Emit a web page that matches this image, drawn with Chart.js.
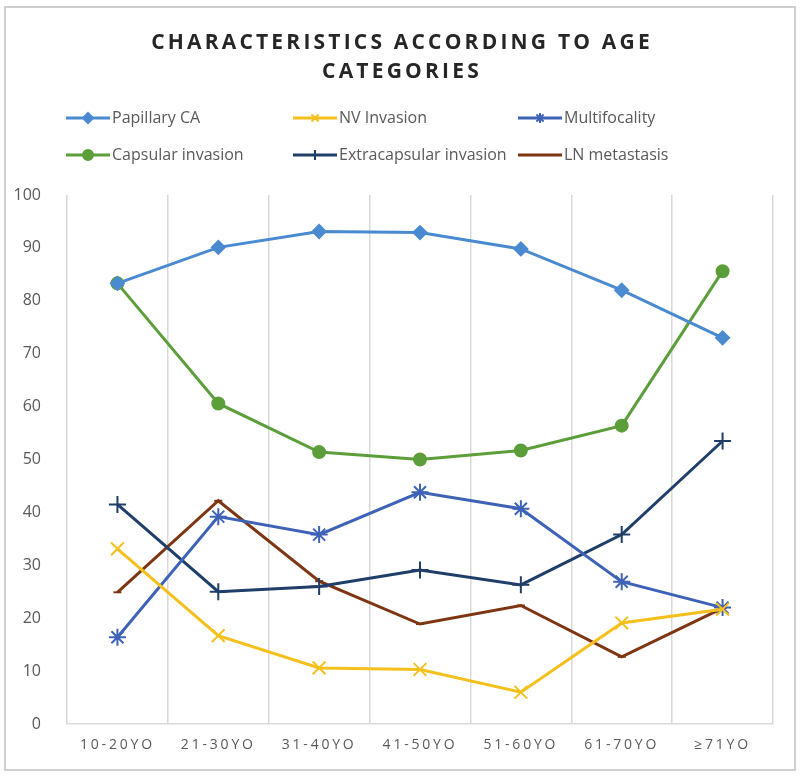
<!DOCTYPE html>
<html>
<head>
<meta charset="utf-8">
<script src="https://cdn.jsdelivr.net/npm/chart.js@4"></script>
<style>
  html, body { margin: 0; padding: 0; background: #fff; }
  #wrap { width: 800px; height: 777px; }
</style>
</head>
<body>
<div id="wrap"><canvas id="myChart" width="800" height="777"></canvas></div>
<script>
const labels = ["10-20YO", "21-30YO", "31-40YO", "41-50YO", "51-60YO", "61-70YO", "≥71YO"];
const papillaryCA = [83.3, 90.1, 93.1, 92.9, 89.8, 82.0, 73.0];
const nvInvasion = [33.1, 16.7, 10.6, 10.3, 6.0, 19.1, 21.7];
const multifocality = [16.4, 39.2, 35.8, 43.8, 40.7, 26.9, 22.0];
const capsularInvasion = [83.3, 60.6, 51.4, 50.0, 51.7, 56.4, 85.6];
const extracapsularInvasion = [41.5, 25.0, 26.0, 29.1, 26.3, 35.8, 53.5];
const lnMetastasis = [24.9, 42.2, 27.0, 18.9, 22.4, 12.7, 21.9];
const yTicks = [0, 10, 20, 30, 40, 50, 60, 70, 80, 90, 100];
const titleLines = ["CHARACTERISTICS ACCORDING TO AGE", "CATEGORIES"];

const grey = "#595959";

const makeSeries = (label, data, color, pointStyle, radius) => ({
  label,
  data,
  borderColor: color,
  backgroundColor: color,
  borderWidth: 3,
  pointStyle,
  pointRadius: radius,
  pointBorderWidth: 2,
  pointBackgroundColor: color,
  pointBorderColor: color,
  tension: 0,
});

const datasets = [
  makeSeries("Papillary CA", papillaryCA, "#4a8ad0", "rectRot", 6.5),
  makeSeries("NV Invasion", nvInvasion, "#f5c01c", "crossRot", 9),
  makeSeries("Multifocality", multifocality, "#3e63b6", "star", 8.5),
  makeSeries("Capsular invasion", capsularInvasion, "#5c9e3a", "circle", 6),
  makeSeries("Extracapsular invasion", extracapsularInvasion, "#1f3e69", "cross", 8.5),
  makeSeries("LN metastasis", lnMetastasis, "#7e3512", "line", 4),
];

// legend slots: 3 columns x 2 rows
const legendCols = [66, 293, 518];
const legendRows = [118, 155];

const framePlugin = {
  id: "frame",
  beforeDraw(chart) {
    const xs = chart.scales.x;
    if (xs && !xs._spaced) {
      const orig = xs.drawLabels;
      xs.drawLabels = function (area) {
        this.ctx.save();
        this.ctx.letterSpacing = "2.8px";
        orig.call(this, area);
        this.ctx.restore();
      };
      xs._spaced = true;
    }
  },
  afterDraw(chart) {
    const ctx = chart.ctx;
    ctx.save();
    // outer border
    ctx.strokeStyle = "#cfcfcf";
    ctx.lineWidth = 2;
    ctx.strokeRect(5, 7, 790, 763);

    // title
    ctx.fillStyle = "#262626";
    ctx.font = "bold 21px 'Open Sans'";
    ctx.textAlign = "center";
    ctx.textBaseline = "middle";
    ctx.letterSpacing = "3.2px";
    ctx.fillText(titleLines[0], 402, 43);
    ctx.fillText(titleLines[1], 402, 72);

    // legend
    ctx.letterSpacing = "0px";
    ctx.font = "16px 'Open Sans'";
    ctx.textAlign = "left";
    chart.data.datasets.forEach((ds, i) => {
      const x = legendCols[i % 3];
      const y = legendRows[Math.floor(i / 3)];
      ctx.strokeStyle = ds.borderColor;
      ctx.fillStyle = ds.borderColor;
      ctx.lineWidth = 3;
      ctx.beginPath();
      ctx.moveTo(x, y);
      ctx.lineTo(x + 44, y);
      ctx.stroke();
      ctx.lineWidth = 2;
      Chart.helpers.drawPoint(ctx, {
        pointStyle: ds.pointStyle,
        radius: Math.min(ds.pointRadius, 5),
        rotation: 0,
        borderWidth: 2,
      }, x + 22, y);
      ctx.fillStyle = grey;
      ctx.fillText(ds.label, x + 46, y);
    });
    ctx.restore();
  },
};

new Chart(document.getElementById("myChart"), {
  type: "line",
  data: { labels, datasets },
  options: {
    responsive: false,
    animation: false,
    layout: { padding: { top: 195, right: 27, left: 0, bottom: 0 } },
    plugins: {
      legend: { display: false },
      title: { display: false },
      tooltip: { enabled: false },
    },
    scales: {
      x: {
        offset: true,
        grid: { display: true, offset: true, color: "#d9d9d9", lineWidth: 1.5, drawTicks: false },
        border: { display: true, color: "#d9d9d9", width: 1.5 },
        ticks: { color: grey, font: { family: "'Open Sans'", size: 14 }, padding: 13, maxRotation: 0 },
        afterFit: (scale) => { scale.height = 53; },
      },
      y: {
        min: 0,
        max: 100,
        afterBuildTicks: (scale) => { scale.ticks = yTicks.map((v) => ({ value: v })); },
        grid: { display: false },
        border: { display: false },
        ticks: { color: grey, font: { family: "'Open Sans'", size: 16 }, padding: 18 },
        afterFit: (scale) => { scale.width = 67; },
      },
    },
  },
  plugins: [framePlugin],
});
</script>
</body>
</html>
